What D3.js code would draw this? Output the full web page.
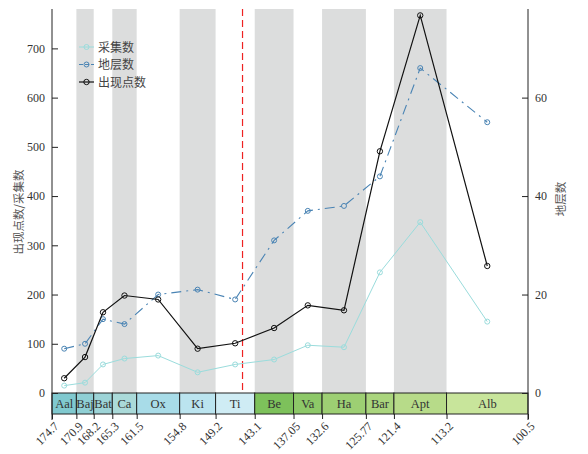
<!DOCTYPE html>
<html>
<head>
<meta charset="utf-8">
<script src="https://cdn.jsdelivr.net/npm/d3@7"></script>
<style>
  body { margin: 0; background: #fff; }
  svg text { font-family: "Liberation Serif", "Noto Sans CJK SC", serif; }
</style>
</head>
<body>
<div class="canvas"></div>
<script>
// stages (name, start Ma, end Ma, colour)
const stages = ['Aal', 'Baj', 'Bat', 'Ca', 'Ox', 'Ki', 'Ti', 'Be', 'Va', 'Ha', 'Bar', 'Apt', 'Alb'];
const stageStart = [174.7, 170.9, 168.2, 165.3, 161.5, 154.8, 149.2, 143.1, 137.05, 132.6, 125.77, 121.4, 113.2];
const stageEnd = [170.9, 168.2, 165.3, 161.5, 154.8, 149.2, 143.1, 137.05, 132.6, 125.77, 121.4, 113.2, 100.5];
const stageColors = ['#80c9cf', '#8fcfd4', '#9dd4d7', '#aadad9', '#a8dce8', '#bbe4ef', '#cfecf4',
  '#7dc15b', '#8dc868', '#9dcf73', '#aad57d', '#b7db89', '#c8e59b'];
const tickLabels = ['174.7', '170.9', '168.2', '165.3', '161.5', '154.8', '149.2', '143.1', '137.05', '132.6', '125.77', '121.4', '113.2', '100.5'];

// series (one value per stage)
const collections = [15, 21, 58, 70, 76, 42, 58, 68, 97, 93, 245, 347, 145];   // 采集数
const formations = [9, 10, 15, 14, 20, 21, 19, 31, 37, 38, 44, 66, 55];        // 地层数 (right axis)
const occurrences = [30, 73, 164, 198, 190, 90, 101, 132, 178, 168, 491, 767, 258]; // 出现点数

const boundaryMa = 145.0;

const dims = { width: 588, height: 454 };
const m = { left: 52, right: 60, top: 9, bottom: 40 };
const bandH = 21;

const svg = d3.select('.canvas').append('svg')
  .attr('width', dims.width)
  .attr('height', dims.height);

const plotBottom = dims.height - m.bottom - bandH; // zero line (top of stage band)

const x = d3.scaleLinear().domain([174.7, 100.5]).range([m.left, dims.width - m.right]);
const yL = d3.scaleLinear().domain([0, 780]).range([plotBottom, m.top]);
const yR = d3.scaleLinear().domain([0, 78]).range([plotBottom, m.top]);

const stageData = stages.map((s, i) => ({ name: s, start: stageStart[i], end: stageEnd[i], color: stageColors[i], mid: (stageStart[i] + stageEnd[i]) / 2 }));

// grey alternating columns
svg.append('g').selectAll('rect')
  .data(stageData.filter((d, i) => i % 2 === 1))
  .join('rect')
    .attr('x', d => x(d.start))
    .attr('y', m.top)
    .attr('width', d => x(d.end) - x(d.start))
    .attr('height', plotBottom - m.top)
    .attr('fill', '#dcdddd');

// red dashed J/K boundary
svg.append('line')
  .attr('x1', x(boundaryMa)).attr('x2', x(boundaryMa))
  .attr('y1', m.top).attr('y2', plotBottom)
  .attr('stroke', '#ee2222')
  .attr('stroke-width', 1.2)
  .attr('stroke-dasharray', '7,4');

// stage band
const band = svg.append('g');
band.selectAll('rect')
  .data(stageData)
  .join('rect')
    .attr('x', d => x(d.start))
    .attr('y', plotBottom)
    .attr('width', d => x(d.end) - x(d.start))
    .attr('height', bandH)
    .attr('fill', d => d.color)
    .attr('stroke', '#222')
    .attr('stroke-width', 1);
band.selectAll('text')
  .data(stageData)
  .join('text')
    .attr('x', d => x(d.mid))
    .attr('y', plotBottom + bandH / 2 + 4.5)
    .attr('text-anchor', 'middle')
    .attr('font-size', 12.5)
    .attr('fill', '#333')
    .text(d => d.name);

// bottom ticks
const bottomAxis = svg.append('g')
  .attr('transform', `translate(0, ${plotBottom + bandH})`)
  .call(d3.axisBottom(x)
    .tickValues(stageStart.concat([100.5]))
    .tickFormat((d, i) => tickLabels[i])
    .tickSize(5)
    .tickSizeOuter(0));
bottomAxis.select('.domain').remove();
bottomAxis.selectAll('line').attr('stroke', '#222');
bottomAxis.selectAll('text')
  .attr('font-size', 12)
  .attr('fill', '#333')
  .attr('text-anchor', 'end')
  .attr('x', 0)
  .attr('y', 0)
  .attr('dy', '0.35em')
  .attr('transform', 'translate(4, 10) rotate(-45)');

// left axis
const leftAxis = svg.append('g')
  .attr('transform', `translate(${m.left}, 0)`)
  .call(d3.axisLeft(yL).tickValues([0, 100, 200, 300, 400, 500, 600, 700]).tickSize(-6).tickSizeOuter(0).tickPadding(7));
leftAxis.select('.domain').attr('d', `M0,${m.top}V${plotBottom + bandH + 6}`).attr('stroke', '#222');
leftAxis.selectAll('line').attr('stroke', '#222');
leftAxis.selectAll('text').attr('font-size', 12).attr('fill', '#333');

// right axis
const rightAxis = svg.append('g')
  .attr('transform', `translate(${dims.width - m.right}, 0)`)
  .call(d3.axisRight(yR).tickValues([0, 20, 40, 60]).tickSize(-6).tickSizeOuter(0).tickPadding(7));
rightAxis.select('.domain').attr('d', `M0,${m.top}V${plotBottom + bandH + 6}`).attr('stroke', '#222');
rightAxis.selectAll('line').attr('stroke', '#222');
rightAxis.selectAll('text').attr('font-size', 12).attr('fill', '#333');

// axis titles
svg.append('text')
  .attr('transform', 'translate(23, 212) rotate(-90)')
  .attr('text-anchor', 'middle')
  .attr('font-size', 11.5)
  .attr('fill', '#555')
  .style('font-family', '"Noto Sans CJK SC", sans-serif')
  .text('出现点数/采集数');
svg.append('text')
  .attr('transform', 'translate(565, 199) rotate(-90)')
  .attr('text-anchor', 'middle')
  .attr('font-size', 11.5)
  .attr('fill', '#555')
  .style('font-family', '"Noto Sans CJK SC", sans-serif')
  .text('地层数');

// series lines
const series = [
  { name: '采集数', values: collections, y: yL, color: '#9adcdc', dash: null, width: 1, r: 2.5 },
  { name: '地层数', values: formations, y: yR, color: '#4a84b4', dash: '10,5,2,5', width: 1.1, r: 2.5 },
  { name: '出现点数', values: occurrences, y: yL, color: '#111', dash: null, width: 1.2, r: 2.7 }
];

series.forEach(s => {
  const pts = s.values.map((v, i) => [x(stageData[i].mid), s.y(v)]);
  svg.append('path')
    .attr('fill', 'none')
    .attr('stroke', s.color)
    .attr('stroke-width', s.width)
    .attr('stroke-dasharray', s.dash)
    .attr('d', d3.line()(pts));
  svg.append('g').selectAll('circle')
    .data(pts)
    .join('circle')
      .attr('cx', d => d[0])
      .attr('cy', d => d[1])
      .attr('r', s.r)
      .attr('fill', 'none')
      .attr('stroke', s.color)
      .attr('stroke-width', 1);
});

// legend
const legend = svg.append('g').attr('transform', 'translate(79, 47)');
series.forEach((s, i) => {
  const g = legend.append('g').attr('transform', `translate(0, ${i * 17.5})`);
  g.append('line')
    .attr('x1', 0).attr('x2', 15)
    .attr('stroke', s.color)
    .attr('stroke-width', s.width)
    .attr('stroke-dasharray', s.dash ? '4,2' : null);
  g.append('circle')
    .attr('cx', 7.5).attr('r', s.r)
    .attr('fill', 'none')
    .attr('stroke', s.color);
  g.append('text')
    .attr('x', 19)
    .attr('dy', 4.5)
    .attr('font-size', 12)
    .attr('fill', '#444')
    .style('font-family', '"Noto Sans CJK SC", sans-serif')
    .text(s.name);
});
</script>
</body>
</html>
